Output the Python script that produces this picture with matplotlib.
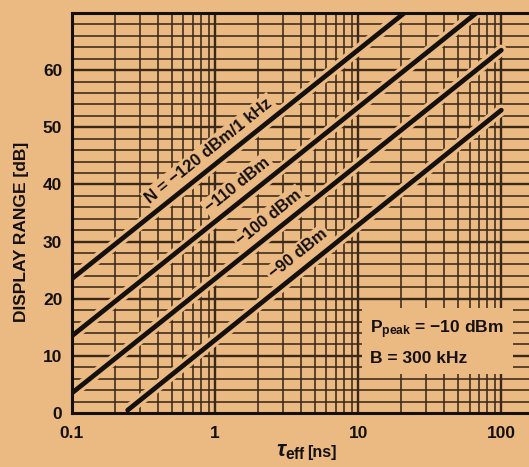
import matplotlib
matplotlib.use("Agg")
import matplotlib.pyplot as plt
import matplotlib.patheffects as pe
from matplotlib.patches import Rectangle

# chart data
noise_labels = ["N = \u2212120 dBm/1 kHz", "\u2212110 dBm", "\u2212100 dBm", "\u221290 dBm"]
x_start = [0.1, 0.1, 0.1, 0.245]
x_end = [21.0, 67.0, 100.0, 100.0]
y_start = [23.5, 13.5, 3.5, 0.5]
y_end = [70.0, 70.0, 63.5, 53.0]
label_x = [0.98, 1.55, 2.55, 4.1]
label_y = [43.3, 37.3, 31.6, 25.2]

x_ticks = [0.1, 1, 10, 100]
x_ticklabels = ["0.1", "1", "10", "100"]
y_ticks = [0, 10, 20, 30, 40, 50, 60]

bg = "#ebb982"
ink = "#3a2819"
txt = "#151010"

plt.rcParams['font.family'] = ['Liberation Sans', 'DejaVu Sans']
plt.rcParams['font.weight'] = 'bold'
plt.rcParams['mathtext.fontset'] = 'custom'
plt.rcParams['mathtext.rm'] = 'Liberation Sans:bold'
plt.rcParams['mathtext.bf'] = 'Liberation Sans:bold'
plt.rcParams['mathtext.it'] = 'Liberation Sans:bold:italic'

fig = plt.figure(figsize=(5.29, 4.67), dpi=100, facecolor=bg)
ax = fig.add_axes([72 / 529, 1 - 413 / 467, 1 - 72 / 529 + 0.01, 400 / 467])
ax.set_facecolor(bg)
ax.set_xscale('log')
ax.set_xlim(0.1, 170)
ax.set_ylim(0, 70)

# grid
for dec in [0.1, 1, 10, 100]:
    for m in range(1, 10):
        v = dec * m
        if v < 0.1 or v > 170:
            continue
        ax.axvline(v, color=ink, lw=1.7 if m == 1 else 1.15, zorder=1)
for v in range(2, 71, 2):
    ax.axhline(v, color=ink, lw=1.7 if v % 10 == 0 else 1.15, zorder=1)

# mask behind the parameter box
ax.add_patch(Rectangle((10.6, 6.8), 110, 11.6, facecolor=bg, edgecolor='none', zorder=2))

# noise lines
for i in range(len(noise_labels)):
    ax.plot([x_start[i], x_end[i]], [y_start[i], y_end[i]], color=txt, lw=3.4,
            solid_capstyle='round', zorder=4,
            path_effects=[pe.Stroke(linewidth=8, foreground=bg), pe.Normal()])
    ax.text(label_x[i], label_y[i] + 1.6, noise_labels[i], rotation=38.8, rotation_mode='anchor',
            ha='center', va='bottom', fontsize=12, fontweight='bold', color=txt, zorder=5,
            bbox=dict(boxstyle='square,pad=0.15', facecolor=bg, edgecolor='none'))

ax.text(12.0, 14.6, "P$_{\\mathrm{peak}}$ = \u221210 dBm", fontsize=12.5,
        fontweight='bold', color=txt, va='center', ha='left', zorder=5)
ax.text(12.0, 9.5, "B = 300 kHz", fontsize=12.5, fontweight='bold', color=txt,
        va='center', ha='left', zorder=5)

for s in ['left', 'bottom', 'top']:
    ax.spines[s].set_linewidth(2.2)
    ax.spines[s].set_color(txt)
    ax.spines[s].set_zorder(6)
ax.spines['right'].set_visible(False)

ax.set_xticks(x_ticks)
ax.set_xticklabels(x_ticklabels)
ax.set_xticks([], minor=True)
ax.set_yticks(y_ticks)
ax.tick_params(length=0, labelsize=12.5, colors=txt)
ax.tick_params(axis='x', pad=9)
ax.tick_params(axis='y', pad=7)
for lab in ax.get_xticklabels() + ax.get_yticklabels():
    lab.set_fontweight('bold')

fig.text(22 / 529, 1 - 232 / 467, "DISPLAY RANGE [dB]", rotation=90, fontsize=12.5,
         fontweight='bold', color=txt, ha='center', va='center')
fig.text(306 / 529, 1 - 452 / 467, "$\\mathit{\\tau}_{\\mathrm{eff}}$", fontsize=16,
         fontweight='bold', color=txt, ha='right', va='center')
fig.text(307 / 529, 1 - 452 / 467, "[ns]", fontsize=11.5,
         fontweight='bold', color=txt, ha='left', va='center')

fig.savefig("out.png", dpi=100, facecolor=bg)
